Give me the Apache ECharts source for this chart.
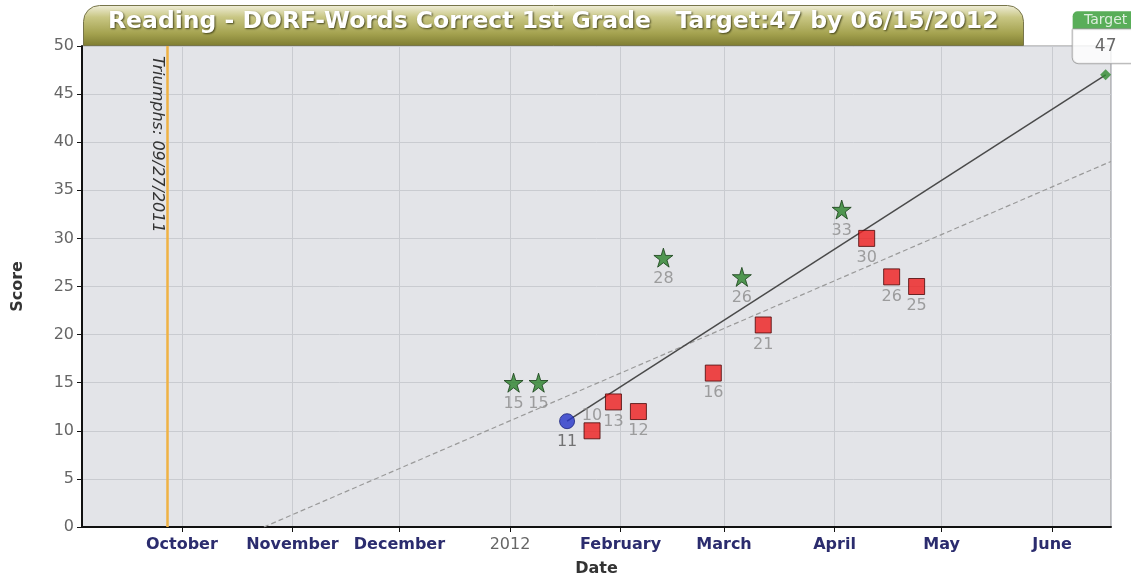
<!DOCTYPE html>
<html>
<head>
    <meta charset="utf-8">
    <title>DORF</title>
    <script src="https://cdn.jsdelivr.net/npm/echarts@6/dist/echarts.min.js"></script>
</head>
<body style="margin:0">
    <div id="main" style="width:1131px;height:582px;"></div>
    <script type="text/javascript">
        // values
        var monthNames = ['2012', 'February', 'March', 'April', 'May', 'June', 'July', 'August', 'September', 'October', 'November', 'December'];
        var xMin = '2011-09-03';
        var xMax = '2012-06-17 12:00';
        var triumphDate = '2011-09-27';
        var starData = [['2012-01-02', 15], ['2012-01-09', 15], ['2012-02-13', 28], ['2012-03-06', 26], ['2012-04-03', 33]];
        var squareData = [['2012-01-24', 10], ['2012-01-30', 13], ['2012-02-06', 12], ['2012-02-27', 16], ['2012-03-12', 21], ['2012-04-10', 30], ['2012-04-17', 26], ['2012-04-24', 25]];
        var baselineData = [['2012-01-17', 11]];
        var aimLine = [['2012-01-17', 11], ['2012-06-16', 47]];
        var trendLine = [['2011-10-24', 0], ['2012-06-17 12:00', 38]];
        var targetData = [['2012-06-16', 47]];

        var myChart = echarts.init(document.getElementById('main'));
        var DAY = 86400000;
        var FONT = 'DejaVu Sans';
        var star = 'path://M50,0 L61,35 L98,35 L68,57 L79,91 L50,70 L21,91 L32,57 L2,35 L39,35 Z';
        var numLabel = {show: true, position: 'bottom', distance: 3, color: '#8a8a8a', fontSize: 16, fontFamily: FONT};

        var squares = squareData.map(function (d, i) {
            if (i === 0) return {value: d, label: {position: 'top', distance: 0, offset: [0, 2]}};
            return d;
        });

        option = {
            animation: false,
            textStyle: {fontFamily: FONT},
            grid: {left: 82, right: 20, top: 46, bottom: 54, show: true, backgroundColor: '#e3e4e8', borderColor: '#8c8c8c', borderWidth: 1},
            graphic: [
                {
                    type: 'rect', left: 83, top: 5, z: 10,
                    shape: {width: 940, height: 40, r: [16, 16, 0, 0]},
                    style: {
                        fill: new echarts.graphic.LinearGradient(0, 0, 0, 1, [
                            {offset: 0, color: '#f1efdb'},
                            {offset: 0.3, color: '#c8c683'},
                            {offset: 0.7, color: '#a4a24f'},
                            {offset: 1, color: '#7e7c31'}
                        ]),
                        stroke: '#77754a', lineWidth: 1
                    }
                },
                {
                    type: 'text', left: 108, top: 10, z: 11,
                    style: {
                        text: 'Reading - DORF-Words Correct 1st Grade   Target:47 by 06/15/2012',
                        fill: '#ffffff', font: 'bold 23.5px "DejaVu Sans"',
                        textShadowColor: 'rgba(50,50,15,0.85)', textShadowBlur: 2, textShadowOffsetX: 1, textShadowOffsetY: 1
                    }
                }
            ],
            xAxis: {
                type: 'time', min: xMin, max: xMax,
                minInterval: 28 * DAY, maxInterval: 31 * DAY,
                name: 'Date', nameLocation: 'middle', nameGap: 34,
                nameTextStyle: {fontWeight: 'bold', fontSize: 16, color: '#333'},
                axisLine: {lineStyle: {color: '#111', width: 2}},
                axisTick: {show: true, length: 5, lineStyle: {color: '#111'}},
                splitLine: {show: true, lineStyle: {color: '#c9cbd0'}},
                axisLabel: {
                    margin: 10, hideOverlap: false,
                    formatter: function (v) {
                        var m = new Date(v).getMonth();
                        return m === 0 ? '{y|' + monthNames[0] + '}' : '{m|' + monthNames[m] + '}';
                    },
                    rich: {
                        m: {fontWeight: 'bold', fontSize: 16, color: '#2b2c6e', fontFamily: FONT},
                        y: {fontSize: 16, color: '#666', fontFamily: FONT}
                    }
                }
            },
            yAxis: {
                type: 'value', min: 0, max: 50, interval: 5,
                name: 'Score', nameLocation: 'middle', nameGap: 56,
                nameTextStyle: {fontWeight: 'bold', fontSize: 16, color: '#333'},
                axisLine: {show: true, lineStyle: {color: '#111', width: 2}},
                axisTick: {show: true, length: 5, lineStyle: {color: '#111'}},
                splitLine: {lineStyle: {color: '#c9cbd0'}},
                axisLabel: {fontSize: 16, color: '#666', margin: 8}
            },
            series: [
                {
                    type: 'line', data: trendLine, symbol: 'none', silent: true,
                    lineStyle: {color: '#9a9a9a', width: 1.2, type: [5, 3]},
                    markLine: {
                        symbol: 'none', silent: true,
                        lineStyle: {color: '#efb244', width: 2.5, type: 'solid'},
                        label: {
                            formatter: 'Triumphs: 09/27/2011', position: 'insideStartBottom', distance: 2,
                            fontStyle: 'italic', fontSize: 16, color: '#333', padding: [0, 0, 0, 8]
                        },
                        data: [[{coord: [triumphDate, 50]}, {coord: [triumphDate, 0]}]]
                    }
                },
                {
                    type: 'line', data: aimLine, symbol: 'none', silent: true,
                    lineStyle: {color: '#4a4a4a', width: 1.5}
                },
                {
                    type: 'scatter', data: starData, symbol: star, symbolSize: 19, z: 5,
                    itemStyle: {color: '#2a822a', borderColor: '#173f17', borderWidth: 1},
                    label: numLabel
                },
                {
                    type: 'scatter', data: squares, symbol: 'rect', symbolSize: 16, z: 5,
                    itemStyle: {color: '#ee1d1d', borderColor: '#4a0808', borderWidth: 1},
                    label: numLabel
                },
                {
                    type: 'scatter', data: baselineData, symbol: 'circle', symbolSize: 15, z: 6,
                    itemStyle: {color: '#2433c8', borderColor: '#1a237a', borderWidth: 1},
                    label: {show: true, position: 'bottom', distance: 5, color: '#555', fontSize: 16}
                },
                {
                    type: 'scatter', data: targetData, symbol: 'diamond', symbolSize: 11, z: 6,
                    itemStyle: {color: '#2f8a2f'},
                    label: {
                        show: true, position: 'top', distance: 6,
                        formatter: '{h|Target}\n{v|47}',
                        rich: {
                            h: {backgroundColor: '#2f9a2f', color: '#fff', fontSize: 14, width: 58, padding: [2, 4], align: 'center', borderRadius: [5, 5, 0, 0]},
                            v: {backgroundColor: '#fff', color: '#444', fontSize: 17, width: 58, height: 26, padding: [4, 4], align: 'center', borderColor: '#999', borderWidth: 1, borderRadius: [0, 0, 6, 6]}
                        }
                    }
                }
            ]
        };

        myChart.setOption(option);
    </script>
</body>
</html>
